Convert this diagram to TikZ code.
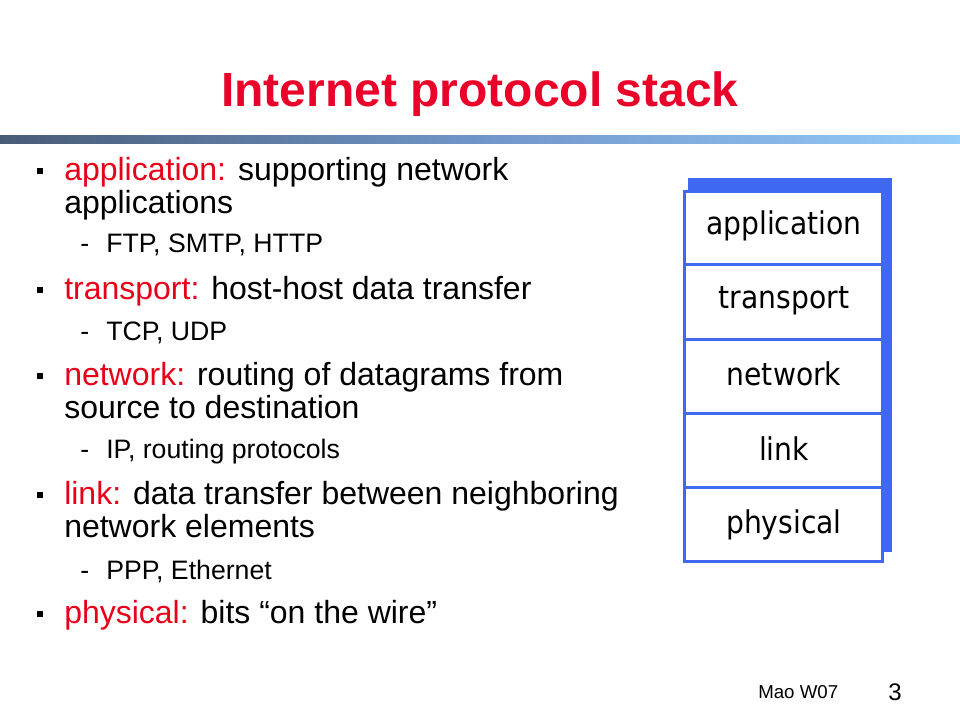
\documentclass[tikz,border=0pt]{standalone}
\usepackage{fontspec}
\setmainfont{Liberation Sans}
\newfontfamily\stackfont{DejaVu Sans Condensed}
\usepackage{xcolor}

\definecolor{keyred}{RGB}{232,0,24}
\definecolor{titlered}{RGB}{234,0,40}
\definecolor{stackblue}{RGB}{64,104,240}
\definecolor{barleft}{RGB}{72,92,118}
\definecolor{barmid}{RGB}{112,150,200}
\definecolor{barright}{RGB}{150,204,250}

\tikzset{
  bodytext/.style={anchor=base west, inner sep=0pt, font=\fontsize{24}{28}\selectfont},
  subtext/.style={anchor=base west, inner sep=0pt, font=\fontsize{20}{24}\selectfont},
  layertext/.style={anchor=base, inner sep=0pt, font=\stackfont\fontsize{23.5}{27}\selectfont},
  sqbullet/.style={fill=black, inner sep=0pt, minimum size=4.5pt}
}

\begin{document}
\begin{tikzpicture}[x=0.75pt,y=-0.75pt]
\def\W{960}
\def\H{720}
\useasboundingbox (0,0) rectangle (\W,\H);

% Title and the bar under it
\node[anchor=base, inner sep=0pt, text=titlered, font=\bfseries\fontsize{36}{40}\selectfont] (title) at (\W/2,107) {Internet protocol stack};
\shade[left color=barleft, right color=barright, middle color=barmid] (0,136) rectangle (\W,144);

% Bullets
\foreach \b [count=\i] in {181,300,385,504,623} {
    \node[sqbullet] (sq\i) at (40,\b-9.5) {};
}

% application
\node[bodytext] (app1) at (64,181) {\textcolor{keyred}{application:} supporting network};
\node[bodytext] (app2) at (64,214) {applications};
\node[subtext] (appdash) at (80,253) {-};
\node[subtext] (app3) at (106,253) {FTP, SMTP, HTTP};

% transport
\node[bodytext] (trans1) at (64,300) {\textcolor{keyred}{transport:} host-host data transfer};
\node[subtext] (transdash) at (80,340) {-};
\node[subtext] (trans2) at (106,340) {TCP, UDP};

% network
\node[bodytext] (net1) at (64,385) {\textcolor{keyred}{network:} routing of datagrams from};
\node[bodytext] (net2) at (64,418) {source to destination};
\node[subtext] (netdash) at (80,458) {-};
\node[subtext] (net3) at (106,458) {IP, routing protocols};

% link
\node[bodytext] (lnk1) at (64,504) {\textcolor{keyred}{link:} data transfer between neighboring};
\node[bodytext] (lnk2) at (64,537) {network elements};
\node[subtext] (lnkdash) at (80,579) {-};
\node[subtext] (lnk3) at (106,579) {PPP, Ethernet};

% physical
\node[bodytext] (phy1) at (64,623) {\textcolor{keyred}{physical:} bits “on the wire”};

% Draw the stack with its shadow
\fill[stackblue] (688,178) rectangle (892,552);
\draw[stackblue, line width=2.25pt, fill=white] (684.5,191.5) rectangle (882.5,561.5);
\foreach \y in {264.5,339,413,487} {
    \draw[stackblue, line width=2.25pt] (684.5,\y) -- (882.5,\y);
}
\node[layertext] (lapp) at (784,235) {application};
\node[layertext] (ltrans) at (784,308) {transport};
\node[layertext] (lnet) at (784,385) {network};
\node[layertext] (llnk) at (784,460) {link};
\node[layertext] (lphy) at (784,533) {physical};

% Footer
\node[anchor=base west, inner sep=0pt, font=\fontsize{14}{16}\selectfont] (foot) at (758,698) {Mao W07};
\node[anchor=base west, inner sep=0pt, font=\fontsize{18}{20}\selectfont] (page) at (888,700) {3};
\end{tikzpicture}
\end{document}
